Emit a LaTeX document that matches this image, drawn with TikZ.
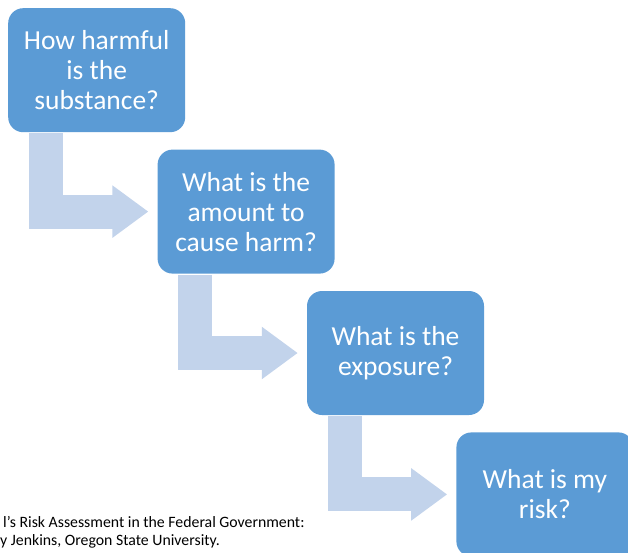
\documentclass[tikz,border=0pt]{standalone}
\usepackage{fontspec}
\setmainfont{Carlito}
\usetikzlibrary{arrows.meta, positioning}
\definecolor{StepBlue}{HTML}{5B9BD5}
\definecolor{StepArrow}{HTML}{C2D3EB}

\begin{document}
\begin{tikzpicture}[x=1pt,y=1pt,
			box/.style={rectangle,rounded corners=15pt,fill=StepBlue,draw=none,text=white,
				minimum width=177pt,minimum height=124pt,inner sep=0pt,align=center,
				font=\fontsize{27.5}{30}\selectfont},
			link/.style={draw=StepArrow,line width=34pt,line join=miter,
				-{Triangle[length=36pt,width=50pt]}}
		]
			\useasboundingbox (0,0) rectangle (628,-552);
			\node (harm) [box,anchor=north west] at (8,-8) {How harmful\\is the\\substance?};
			\node (amount) [box,below right=17pt and -28pt of harm] {What is the\\amount to\\cause harm?};
			\node (expo) [box,below right=17pt and -28pt of amount] {What is the\\exposure?};
			\node (risk) [box,below right=17pt and -28pt of expo] {What is my\\risk?};

			\draw[link] ([xshift=38pt,yshift=-1pt]harm.south west) |- ([xshift=-9pt]amount.west);
			\draw[link] ([xshift=38pt,yshift=-1pt]amount.south west) |- ([xshift=-9pt]expo.west);
			\draw[link] ([xshift=38pt,yshift=-1pt]expo.south west) |- ([xshift=-9pt]risk.west);

			% source, cut at the left edge
			\node (src) [anchor=north west,inner sep=0pt,align=left,font=\fontsize{15.8}{18.5}\selectfont] at (0,-516)
			{\hspace*{3pt}l’s Risk Assessment in the Federal Government:\\y Jenkins, Oregon State University.};
		\end{tikzpicture}
\end{document}
